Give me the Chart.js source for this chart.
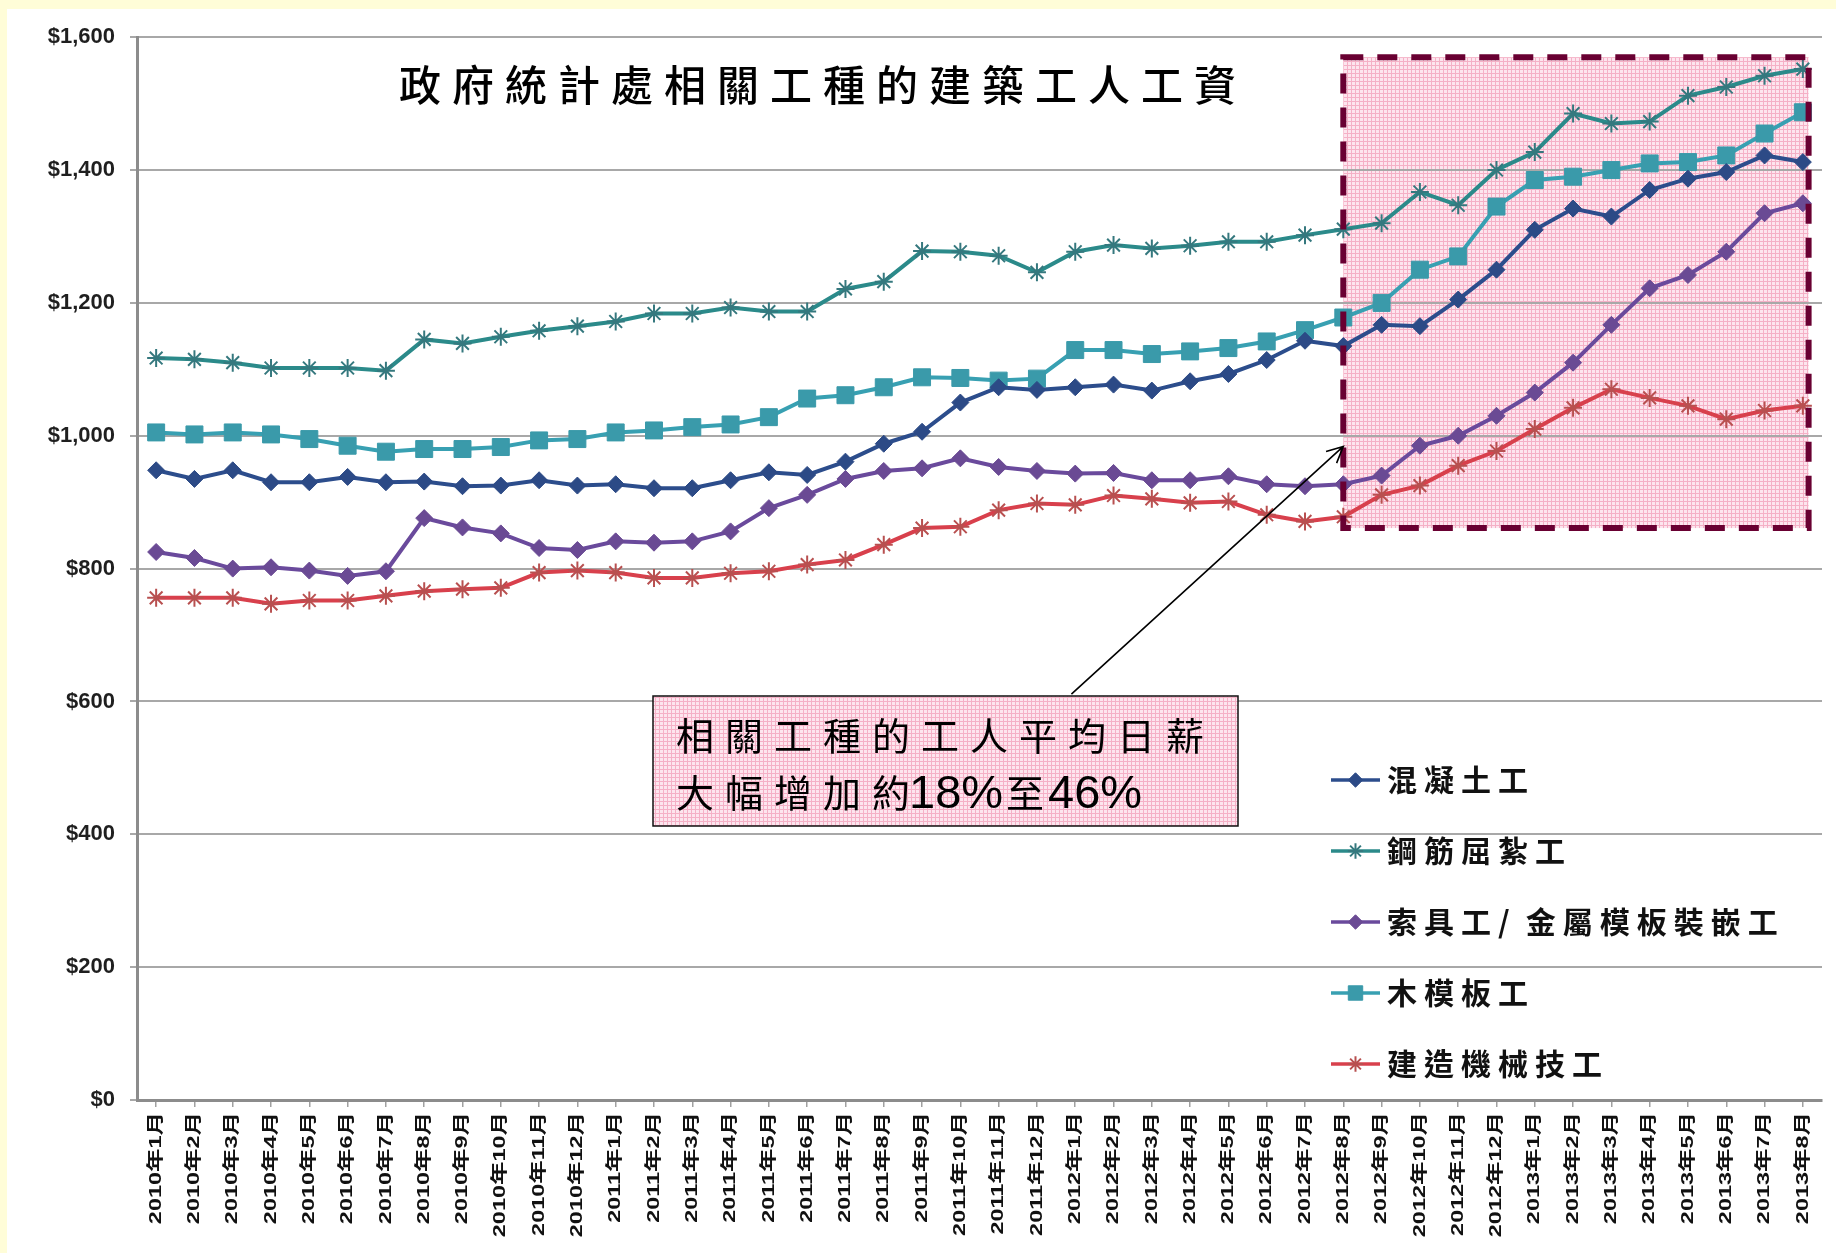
<!DOCTYPE html>
<html lang="zh-Hant">
<head>
<meta charset="utf-8">
<title>政府統計處相關工種的建築工人工資</title>
<script src="https://cdn.jsdelivr.net/npm/chart.js@4.4.1/dist/chart.umd.min.js"></script>
<style>
  html, body { margin: 0; padding: 0; background: #fffdd8; }
  body { width: 1836px; height: 1253px; overflow: hidden; position: relative; }
  #wrap { position: absolute; left: 7px; top: 9px; width: 1829px; height: 1244px; background: #fff; }
  canvas { display: block; }
</style>
</head>
<body>
<div id="wrap"><canvas id="wageChart" width="1829" height="1244"></canvas></div>
<script>
// month labels (x axis)
const monthLabels = [
  '2010年1月', '2010年2月', '2010年3月', '2010年4月', '2010年5月', '2010年6月',
  '2010年7月', '2010年8月', '2010年9月', '2010年10月', '2010年11月', '2010年12月',
  '2011年1月', '2011年2月', '2011年3月', '2011年4月', '2011年5月', '2011年6月',
  '2011年7月', '2011年8月', '2011年9月', '2011年10月', '2011年11月', '2011年12月',
  '2012年1月', '2012年2月', '2012年3月', '2012年4月', '2012年5月', '2012年6月',
  '2012年7月', '2012年8月', '2012年9月', '2012年10月', '2012年11月', '2012年12月',
  '2013年1月', '2013年2月', '2013年3月', '2013年4月', '2013年5月', '2013年6月',
  '2013年7月', '2013年8月'
];

// average daily wages (HK$)
const concreteWorker = [948, 935, 948, 930, 930, 938, 930, 931, 924, 925, 933, 925,
  927, 921, 921, 933, 945, 941, 961, 988, 1006, 1050, 1073, 1069,
  1073, 1077, 1068, 1082, 1093, 1114, 1143, 1135, 1167, 1165, 1205, 1250,
  1310, 1342, 1330, 1370, 1387, 1397, 1422, 1412];
const barBender = [1117, 1115, 1110, 1102, 1102, 1102, 1098, 1145, 1139, 1149, 1158, 1165,
  1172, 1184, 1184, 1193, 1187, 1187, 1221, 1232, 1278, 1277, 1271, 1246,
  1277, 1287, 1282, 1286, 1292, 1292, 1302, 1311, 1320, 1367, 1347, 1400,
  1427, 1485, 1470, 1473, 1512, 1525, 1542, 1552];
const riggerMetalFormwork = [825, 816, 800, 802, 797, 789, 796, 876, 862, 853, 831, 828,
  841, 839, 841, 856, 891, 911, 935, 947, 951, 966, 953, 947,
  943, 944, 933, 933, 939, 927, 924, 927, 940, 985, 1000, 1030,
  1065, 1110, 1167, 1222, 1242, 1277, 1335, 1350];
const carpenterFormwork = [1005, 1002, 1005, 1002, 995, 985, 976, 980, 980, 983, 993, 995,
  1005, 1008, 1013, 1017, 1028, 1056, 1061, 1073, 1088, 1087, 1083, 1086,
  1129, 1129, 1123, 1127, 1132, 1142, 1159, 1178, 1200, 1250, 1270, 1345,
  1385, 1390, 1400, 1410, 1412, 1422, 1455, 1487];
const plantMechanic = [756, 756, 756, 747, 752, 752, 759, 766, 769, 771, 794, 797,
  794, 786, 786, 793, 796, 806, 813, 836, 861, 863, 888, 898,
  896, 910, 905, 899, 901, 881, 871, 878, 911, 925, 955, 977,
  1010, 1042, 1070, 1057, 1045, 1025, 1038, 1045];

const yTicks = [0, 200, 400, 600, 800, 1000, 1200, 1400, 1600];

const titleText = '政府統計處相關工種的建築工人工資';
const noteLine1 = '相關工種的工人平均日薪';

const CJK = '"Noto Sans CJK TC", "Noto Sans CJK SC", sans-serif';

function pinkPattern(ctx) {
    const c = document.createElement('canvas');
    c.width = 4; c.height = 4;
    const g = c.getContext('2d');
    g.fillStyle = '#fde5ee';
    g.fillRect(0, 0, 4, 4);
    g.fillStyle = '#f5b0c6';
    g.fillRect(0, 0, 4, 1);
    g.fillRect(0, 0, 1, 4);
    return ctx.createPattern(c, 'repeat');
}

// draw CJK text one glyph at a time with a fixed advance
function spacedText(ctx, text, x, y, advance) {
    for (const ch of text) {
        ctx.fillText(ch, x, y);
        x += (ch === '/') ? advance * 0.75 : advance;
    }
    return x;
}

// shaded region 2012年8月 onward, drawn under grid and lines
const highlightFill = {
    id: 'highlightFill',
    beforeDraw(chart) {
        const { ctx, scales: { x, y } } = chart;
        const l = x.getPixelForValue(31), r = x.getPixelForValue(43.15);
        const t = y.getPixelForValue(1570), b = y.getPixelForValue(861);
        ctx.save();
        ctx.fillStyle = pinkPattern(ctx);
        ctx.fillRect(l, t, r - l, b - t);
        ctx.restore();
    }
};

const annotations = {
    id: 'annotations',
    afterDatasetsDraw(chart) {
        const { ctx, scales: { x, y } } = chart;
        const l = x.getPixelForValue(31), r = x.getPixelForValue(43.15);
        const t = y.getPixelForValue(1570), b = y.getPixelForValue(861);
        ctx.save();

        // dashed frame
        ctx.strokeStyle = '#690032';
        ctx.lineWidth = 6;
        ctx.setLineDash([20, 14]);
        ctx.strokeRect(l, t, r - l, b - t);
        ctx.setLineDash([]);

        // arrow from note box to the frame
        const ax = x.getPixelForValue(23.9), ay = y.getPixelForValue(611);
        const tx = l, ty = y.getPixelForValue(984);
        ctx.strokeStyle = '#000';
        ctx.lineWidth = 1.6;
        ctx.beginPath();
        ctx.moveTo(ax, ay);
        ctx.lineTo(tx, ty);
        const ang = Math.atan2(ty - ay, tx - ax);
        ctx.moveTo(tx - 18 * Math.cos(ang - 0.45), ty - 18 * Math.sin(ang - 0.45));
        ctx.lineTo(tx, ty);
        ctx.lineTo(tx - 18 * Math.cos(ang + 0.45), ty - 18 * Math.sin(ang + 0.45));
        ctx.stroke();

        // note box
        ctx.fillStyle = pinkPattern(ctx);
        ctx.fillRect(646, 687, 585, 130);
        ctx.strokeStyle = '#111';
        ctx.lineWidth = 1.5;
        ctx.strokeRect(646, 687, 585, 130);

        ctx.fillStyle = '#000';
        ctx.textBaseline = 'middle';
        ctx.textAlign = 'left';
        ctx.font = '400 38px ' + CJK;
        spacedText(ctx, noteLine1, 669, 727, 49);
        let px = spacedText(ctx, '大幅增加約', 669, 784, 49) - 12;
        ctx.font = '47px "Liberation Sans", Arial, sans-serif';
        ctx.fillText('18%', px, 786);
        px += ctx.measureText('18%').width + 3;
        ctx.font = '400 38px ' + CJK;
        ctx.fillText('至', px, 784);
        px += 42;
        ctx.font = '47px "Liberation Sans", Arial, sans-serif';
        ctx.fillText('46%', px, 786);
        ctx.restore();
    },
    afterDraw(chart) {
        const ctx = chart.ctx;
        ctx.save();
        // title
        ctx.fillStyle = '#000';
        ctx.textBaseline = 'middle';
        ctx.textAlign = 'left';
        ctx.font = '500 42px ' + CJK;
        spacedText(ctx, titleText, 392, 76, 53);

        // x tick labels: rotated, slightly stretched
        const xs = chart.scales.x;
        ctx.fillStyle = '#111';
        ctx.font = 'bold 17px "Liberation Sans", ' + CJK;
        ctx.textAlign = 'right';
        chart.data.labels.forEach((lab, i) => {
            ctx.save();
            ctx.translate(xs.getPixelForTick(i), xs.top + 12);
            ctx.rotate(-Math.PI / 2);
            ctx.scale(1.38, 1);
            ctx.fillText(lab, 0, 0);
            ctx.restore();
        });

        // legend
        ctx.textAlign = 'left';
        chart.data.datasets.forEach((ds, i) => {
            const ly = 771 + i * 71;
            ctx.strokeStyle = ds.borderColor;
            ctx.lineWidth = 3.5;
            ctx.beginPath();
            ctx.moveTo(1324, ly);
            ctx.lineTo(1373, ly);
            ctx.stroke();
            ctx.fillStyle = ds.pointBackgroundColor;
            ctx.strokeStyle = ds.pointBorderColor;
            ctx.lineWidth = ds.pointBorderWidth;
            Chart.helpers.drawPoint(ctx, {
                pointStyle: ds.pointStyle, radius: ds.pointRadius * 0.85,
                borderWidth: ds.pointBorderWidth, rotation: 0
            }, 1348.5, ly);
            ctx.fillStyle = '#111';
            ctx.font = 'bold 30px ' + CJK;
            spacedText(ctx, ds.label, 1380, ly, 37);
        });
        ctx.restore();
    }
};

function series(label, data, color, markerColor, style, radius, bw) {
    return {
        label: label,
        data: data,
        borderColor: color,
        backgroundColor: color,
        borderWidth: 4,
        tension: 0,
        fill: false,
        pointStyle: style,
        pointRadius: radius,
        pointBackgroundColor: markerColor,
        pointBorderColor: markerColor,
        pointBorderWidth: bw
    };
}

const ctx = document.getElementById('wageChart').getContext('2d');
new Chart(ctx, {
    type: 'line',
    data: {
        labels: monthLabels,
        datasets: [
            series('混凝土工', concreteWorker, '#2c4d8c', '#2c4a86', 'rectRot', 8.5, 1),
            series('鋼筋屈紮工', barBender, '#2b8a8a', '#35787e', 'star', 9, 2),
            series('索具工/金屬模板裝嵌工', riggerMetalFormwork, '#6a4a9c', '#6a4a94', 'rectRot', 8.5, 1),
            series('木模板工', carpenterFormwork, '#38a0b2', '#3a9aaa', 'rect', 12, 1),
            series('建造機械技工', plantMechanic, '#d8404c', '#b85050', 'star', 9, 2)
        ]
    },
    options: {
        responsive: false,
        animation: false,
        devicePixelRatio: 1,
        layout: {
            padding: { top: 26, right: 14, left: 0, bottom: 0 }
        },
        plugins: {
            legend: { display: false },
            tooltip: { enabled: false }
        },
        scales: {
            x: {
                offset: true,
                afterFit: scale => { scale.height = 153; },
                ticks: { display: false },
                grid: {
                    drawOnChartArea: false,
                    drawTicks: true,
                    tickLength: 7,
                    color: '#a0a0a0',
                    lineWidth: 1.5
                },
                border: { color: '#8c8c8c', width: 3 }
            },
            y: {
                min: 0,
                max: 1600,
                afterFit: scale => { scale.width = 130; },
                afterBuildTicks: scale => { scale.ticks = yTicks.map(v => ({ value: v })); },
                ticks: {
                    padding: 15,
                    color: '#1f1f1f',
                    font: { family: '"Liberation Sans", Arial, sans-serif', size: 22, weight: 'bold' },
                    callback: v => '$' + v.toLocaleString('en-US')
                },
                grid: {
                    color: '#a8a8a8',
                    lineWidth: 2,
                    tickLength: 7
                },
                border: { color: '#8c8c8c', width: 3 }
            }
        }
    },
    plugins: [highlightFill, annotations]
});
</script>
</body>
</html>
